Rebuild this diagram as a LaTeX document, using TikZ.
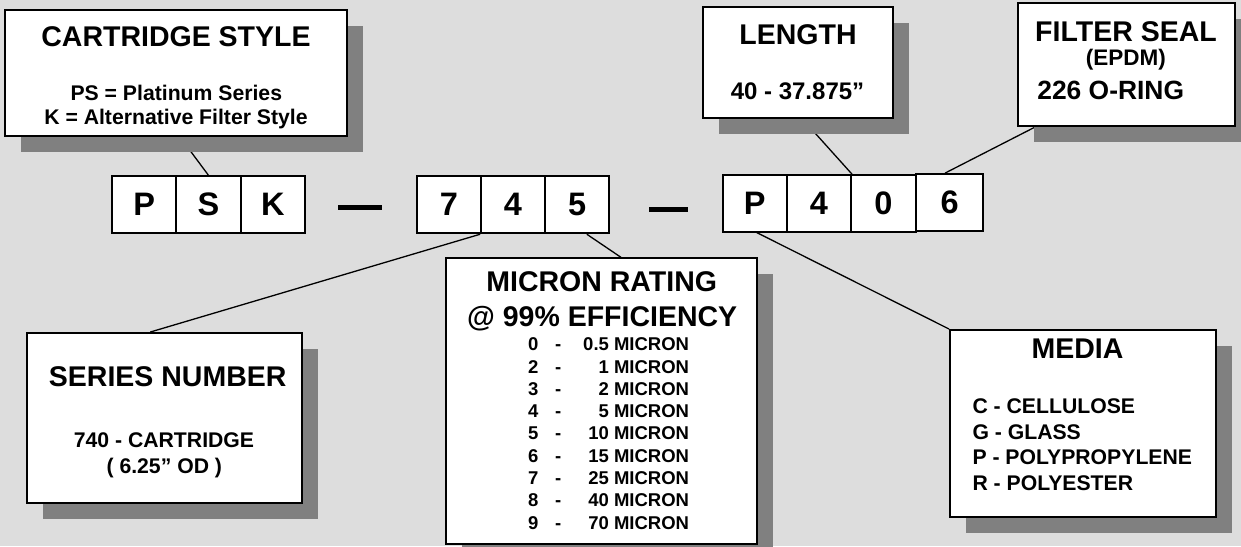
\documentclass[tikz,border=0pt]{standalone}
\usepackage{fontspec}
\setmainfont{Liberation Sans}
\usetikzlibrary{shadows}
\definecolor{bgc}{HTML}{DDDDDD}
\definecolor{shd}{HTML}{808080}
\pgfdeclarelayer{bglayer}
\pgfdeclarelayer{lnlayer}
\pgfsetlayers{bglayer,lnlayer,main}
\tikzset{
  infobox/.style={draw=black, line width=2pt, fill=white, rectangle, inner sep=0pt,
    drop shadow={shadow xshift=16pt, shadow yshift=-16pt, fill=shd, opacity=1}},
  codebox/.style={draw=black, line width=1.8pt, fill=white, rectangle, inner sep=0pt,
    font=\fontsize{32.5}{36}\selectfont\bfseries},
  titletxt/.style={anchor=base, inner sep=0pt, font=\fontsize{28.5}{32}\selectfont\bfseries},
  subtxt/.style={anchor=base, inner sep=0pt, font=\fontsize{21.2}{24}\selectfont\bfseries},
  bigsub/.style={anchor=base, inner sep=0pt, font=\fontsize{24}{28}\selectfont\bfseries},
  rowtxt/.style={inner sep=0pt, font=\fontsize{18.5}{22}\selectfont\bfseries},
  medtxt/.style={anchor=base west, inner sep=0pt, font=\fontsize{21.2}{24}\selectfont\bfseries},
  link/.style={line width=1.3pt, draw=black},
  dashbar/.style={fill=black, rectangle, inner sep=0pt, minimum height=5pt}
}
\begin{document}
\begin{tikzpicture}[x=1pt, y=-1pt]
\useasboundingbox (0,0) rectangle (1241,546);
\begin{pgfonlayer}{bglayer}
  \fill[bgc] (0,0) rectangle (1241,546);
\end{pgfonlayer}

% info boxes
\node[infobox, minimum width=342pt, minimum height=126pt] (cart) at (176,73) {};
\node[infobox, minimum width=190pt, minimum height=111.6pt] (len) at (797.7,62.5) {};
\node[infobox, minimum width=216.7pt, minimum height=122.7pt] (fil) at (1126.7,64.7) {};
\node[infobox, minimum width=275pt, minimum height=170.3pt] (ser) at (164.2,418.2) {};
\node[infobox, minimum width=311.3pt, minimum height=285.7pt] (mic) at (601.7,401.2) {};
\node[infobox, minimum width=265.7pt, minimum height=186.7pt] (med) at (1082.85,423.35) {};

% code boxes
\node[codebox, minimum width=63.7pt, minimum height=57.3pt] (cP) at (144.2,204.7) {P};
\node[codebox, minimum width=64.7pt, minimum height=57.3pt] (cS) at (208.35,204.7) {S};
\node[codebox, minimum width=64.3pt, minimum height=57.3pt] (cK) at (272.85,204.7) {K};
\node[codebox, minimum width=64.3pt, minimum height=57.3pt] (n7) at (448.85,204.7) {7};
\node[codebox, minimum width=64pt, minimum height=57.3pt] (n4) at (513,204.7) {4};
\node[codebox, minimum width=64.3pt, minimum height=57.3pt] (n5) at (577.15,204.7) {5};
\node[codebox, minimum width=64pt, minimum height=56.7pt] (mP) at (754.7,203.3) {P};
\node[codebox, minimum width=64.3pt, minimum height=56.7pt] (m4) at (818.85,203.3) {4};
\node[codebox, minimum width=65pt, minimum height=56.7pt] (m0) at (883.5,203.3) {0};
\node[codebox, minimum width=67.3pt, minimum height=57pt] (m6) at (949.65,202.5) {6};

% dashes between groups
\node[dashbar, minimum width=43.7pt] (d1) at (359.85,207.3) {};
\node[dashbar, minimum width=39pt] (d2) at (668.8,209) {};

% texts
\node[titletxt] (tcart) at (176,46.7) {CARTRIDGE STYLE};
\node[subtxt] (tps) at (176.3,100) {PS = Platinum Series};
\node[subtxt] (tk) at (176,124) {K = Alternative Filter Style};

\node[titletxt] (tlen) at (798,44) {LENGTH};
\node[bigsub] (tlenv) at (797.5,99.3) {40 - 37.875”};

\node[titletxt] (tfil) at (1126,41.7) {FILTER SEAL};
\node[anchor=base, inner sep=0pt, font=\fontsize{22.5}{26}\selectfont\bfseries] (tepdm) at (1125.8,65) {(EPDM)};
\node[anchor=base, inner sep=0pt, font=\fontsize{26.4}{30}\selectfont\bfseries] (toring) at (1110.7,99.3) {226 O-RING};

\node[titletxt] (tser) at (167.7,386.7) {SERIES NUMBER};
\node[subtxt] (tser1) at (164,447.7) {740 - CARTRIDGE};
\node[subtxt] (tser2) at (164.3,473.3) {( 6.25” OD )};

\node[titletxt] (tmic) at (601.7,291.7) {MICRON RATING};
\node[titletxt] (tmic2) at (602.2,326) {@ 99\% EFFICIENCY};
\foreach \d/\v [count=\i from 0] in {0/0.5,2/1,3/2,4/5,5/10,6/15,7/25,8/40,9/70}{
  \node[rowtxt, anchor=base] (rd\i) at (533.3,350.7+22.3*\i) {\d};
  \node[rowtxt, anchor=base] (rh\i) at (558.3,350.7+22.3*\i) {-};
  \node[rowtxt, anchor=base east] (rv\i) at (689.3,350.7+22.3*\i) {\v\ MICRON};
}

\node[titletxt] (tmed) at (1077.5,358.3) {MEDIA};
\node[medtxt] (tm1) at (972.3,413.3) {C - CELLULOSE};
\node[medtxt] (tm2) at (972.3,439.3) {G - GLASS};
\node[medtxt] (tm3) at (972.3,464.3) {P - POLYPROPYLENE};
\node[medtxt] (tm4) at (972.3,490.7) {R - POLYESTER};

% connectors (behind boxes and shadows)
\begin{pgfonlayer}{lnlayer}
  \draw[link] ([xshift=4pt]cart.south) -- (cS.north);
  \draw[link] ([xshift=5pt]len.south) -- (m4.north east);
  \draw[link] ([xshift=17.7pt]fil.south west) -- ([xshift=-4.6pt]m6.north);
  \draw[link] ([xshift=-14pt]ser.north) -- (n4.south west);
  \draw[link] ([xshift=9.7pt]n5.south) -- ([xshift=19.3pt]mic.north);
  \draw[link] ([xshift=2pt]mP.south) -- (med.north west);
\end{pgfonlayer}
\end{tikzpicture}
\end{document}
